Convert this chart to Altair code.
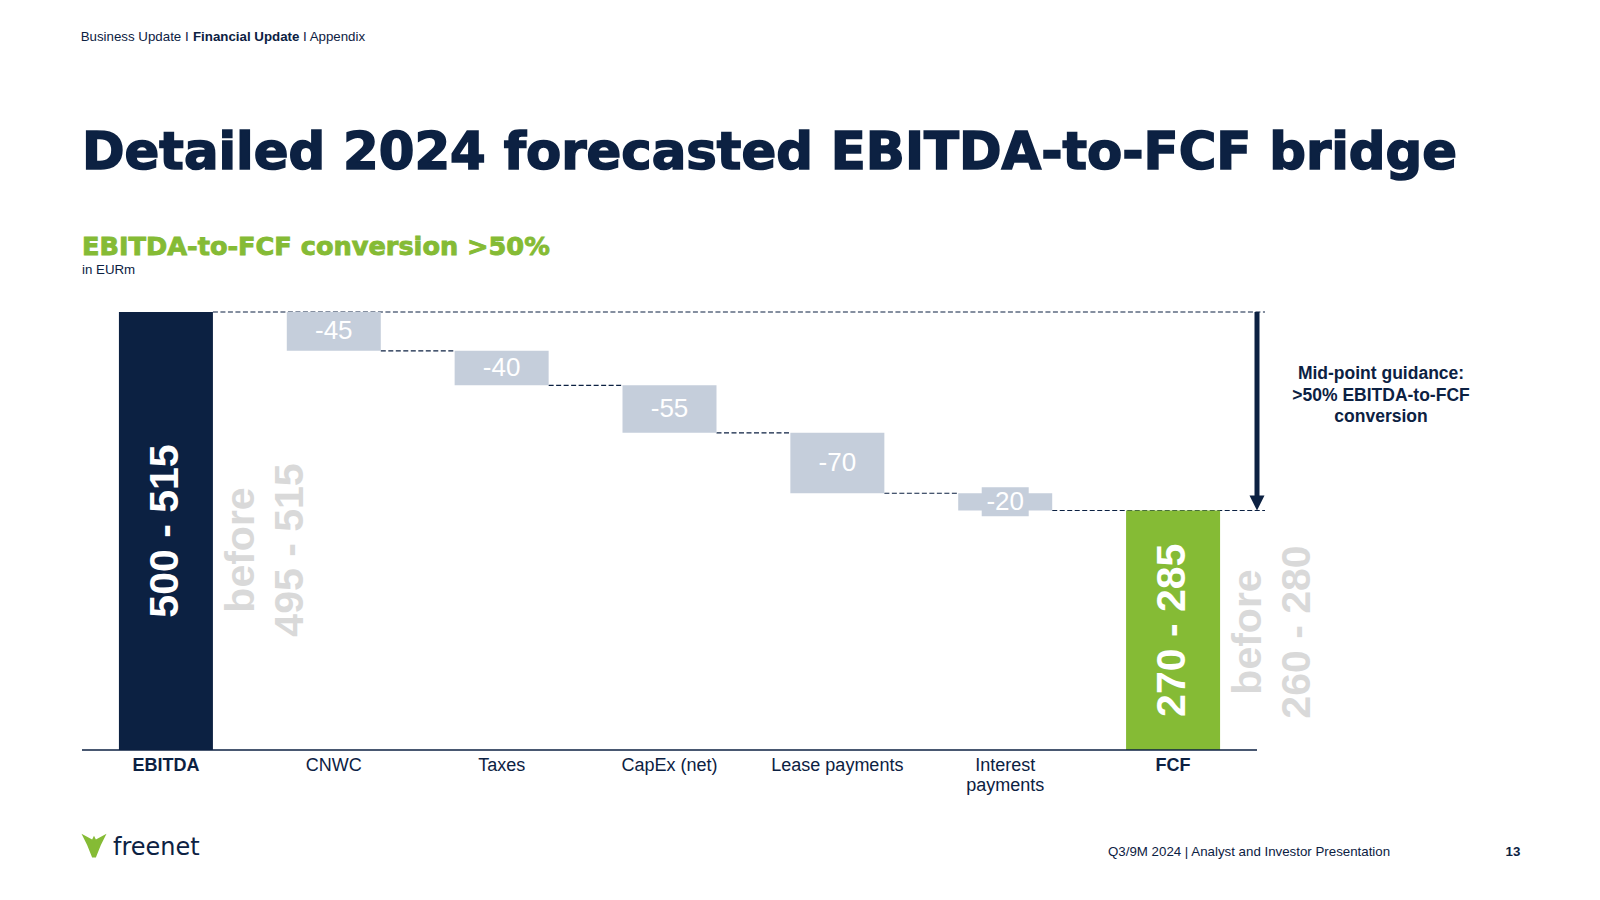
import altair as alt
import pandas as pd

# ---------------- data ----------------
categories = ["EBITDA", "CNWC", "Taxes", "CapEx (net)", "Lease payments", "Interest payments", "FCF"]
axis_labels = ["EBITDA", "CNWC", "Taxes", "CapEx (net)", "Lease payments", "Interest\npayments", "FCF"]
bold_labels = ["EBITDA", "FCF"]
ebitda_range = [500, 515]
ebitda_before = [495, 515]
fcf_range = [270, 285]
fcf_before = [260, 280]
step_values = [-45, -40, -55, -70, -20]

# ---------------- style ----------------
NAVY = "#0c2142"
GREEN = "#85bb35"
STEP = "#c5cedb"
BEFORE = "#d9d9d9"
FONT = "Liberation Sans"
HEAVY = "DejaVu Sans"
W, H = 1175, 438


def rng(r):
    return f"{r[0]} - {r[1]}"


ebitda_mid = sum(ebitda_range) / 2
fcf_mid = sum(fcf_range) / 2
unit_per_px = ebitda_mid / H

rows = [dict(cat="EBITDA", start=0, end=ebitda_mid, color=NAVY, label=rng(ebitda_range))]
level = ebitda_mid
for c, v in zip(categories[1:-1], step_values):
    rows.append(dict(cat=c, start=level, end=level + v, color=STEP, label=str(v)))
    level += v
rows.append(dict(cat="FCF", start=0, end=fcf_mid, color=GREEN, label=rng(fcf_range)))
bars = pd.DataFrame(rows)
bars["mid"] = (bars["start"] + bars["end"]) / 2

steps = bars.iloc[1:-1].copy()
totals = bars.iloc[[0, -1]].copy()

# label boxes for steps too small to hold their label
box_half = 14.5 * unit_per_px
small = steps[(steps["start"] - steps["end"]).abs() < 2 * box_half].copy()
small["b0"] = small["mid"] - box_half
small["b1"] = small["mid"] + box_half

conn = pd.DataFrame({
    "frm": categories[1:5],
    "to": categories[2:6],
    "y": list(steps["end"].iloc[:4]),
})
guides = pd.DataFrame({"frm": ["EBITDA", "Interest payments"], "y": [ebitda_mid, fcf_mid]})

xlab = pd.DataFrame({"cat": categories, "lab": axis_labels})
xlab_bold = xlab[xlab["cat"].isin(bold_labels)]
xlab_norm = xlab[~xlab["cat"].isin(bold_labels)]

xscale = alt.Scale(domain=categories, paddingInner=0.44, paddingOuter=0.22)
yscale = alt.Scale(domain=[0, ebitda_mid], nice=False, zero=True)


def X(field, bp=0.5):
    return alt.X(field, scale=xscale, bandPosition=bp, axis=None)


def Y(field):
    return alt.Y(field, scale=yscale, axis=None)


dashed = dict(color=NAVY, strokeWidth=1.2, strokeDash=[5, 2.5])

guide_layer = alt.Chart(guides).mark_rule(**dashed).encode(
    x=X("frm:N", 1), x2=alt.value(W + 8), y=Y("y:Q"))

conn_layer = alt.Chart(conn).mark_rule(**dashed).encode(
    x=X("frm:N", 1), x2=alt.X2("to", bandPosition=0), y=Y("y:Q"))

bar_layer = alt.Chart(bars).mark_bar().encode(
    x=alt.X("cat:N", scale=xscale, axis=None),
    y=Y("start:Q"), y2="end:Q",
    color=alt.Color("color:N", scale=None))

box_layer = alt.Chart(small).mark_bar(color=STEP, width=alt.RelativeBandSize(0.5)).encode(
    x=alt.X("cat:N", scale=xscale, axis=None), y=Y("b0:Q"), y2="b1:Q")

step_text = alt.Chart(steps).mark_text(
    color="white", fontSize=26, font=FONT, align="center", baseline="middle").encode(
    x=X("cat:N"), y=Y("mid:Q"), text="label:N")

total_text = alt.Chart(totals).mark_text(
    color="white", fontSize=41, font=FONT, fontWeight="bold", angle=270,
    align="center", baseline="middle").encode(
    x=X("cat:N"), y=Y("mid:Q"), text="label:N")


def before_layer(cat, text, ypx, dy):
    return alt.Chart(pd.DataFrame({"cat": [cat], "t": [text]})).mark_text(
        color=BEFORE, fontSize=41, font=FONT, fontWeight="bold", angle=270,
        align="center", baseline="middle", dy=dy).encode(
        x=X("cat:N", 1), y=alt.value(ypx), text="t:N")


before_layers = [
    before_layer("EBITDA", "before", 238, 29),
    before_layer("EBITDA", rng(ebitda_before), 238, 78),
    before_layer("FCF", "before", 320, 29),
    before_layer("FCF", rng(fcf_before), 320, 78),
]

xlab_b = alt.Chart(xlab_bold).mark_text(
    color=NAVY, fontSize=18, font=FONT, fontWeight="bold", align="center",
    baseline="alphabetic", lineBreak="\n", lineHeight=20).encode(
    x=X("cat:N"), y=alt.value(H + 20.5), text="lab:N")
xlab_n = alt.Chart(xlab_norm).mark_text(
    color=NAVY, fontSize=18, font=FONT, align="center",
    baseline="alphabetic", lineBreak="\n", lineHeight=20).encode(
    x=X("cat:N"), y=alt.value(H + 20.5), text="lab:N")

base_rule = alt.Chart(pd.DataFrame({"v": [0]})).mark_rule(color=NAVY, strokeWidth=1.6).encode(
    x=alt.value(0), x2=alt.value(W), y=alt.Y(datum=0, scale=yscale, axis=None))

arrow_df = pd.DataFrame({"y": [ebitda_mid], "y2": [fcf_mid + 10 * unit_per_px], "tip": [fcf_mid]})
arrow_shaft = alt.Chart(arrow_df).mark_rule(color=NAVY, strokeWidth=5).encode(
    x=alt.value(W), y=Y("y:Q"), y2="y2:Q")
arrow_head = alt.Chart(arrow_df).mark_point(
    shape="M-1,-2L1,-2L0,0Z", size=225, filled=True, color=NAVY, opacity=1, strokeWidth=0).encode(
    x=alt.value(W), y=Y("tip:Q"))


def txt(text, x, y, **kw):
    return alt.Chart(pd.DataFrame({"t": [text]})).mark_text(**kw).encode(
        x=alt.value(x), y=alt.value(y), text="t:N")


texts = [
    txt("Business Update I ", -1.3, -275.3, font=FONT, fontSize=13.3, color=NAVY, align="left", baseline="middle"),
    txt("Financial Update", 111, -275.3, font=FONT, fontSize=13.3, fontWeight="bold", color=NAVY, align="left", baseline="middle"),
    txt("I Appendix", 221, -275.3, font=FONT, fontSize=13.3, color=NAVY, align="left", baseline="middle"),
    txt("Detailed 2024 forecasted EBITDA-to-FCF bridge", 0, -143, font=HEAVY, fontSize=51.3, fontWeight="bold",
        color=NAVY, stroke=NAVY, strokeWidth=1.6, align="left", baseline="alphabetic"),
    txt("EBITDA-to-FCF conversion >50%", 0, -57.5, font=HEAVY, fontSize=25.6, fontWeight="bold",
        color=GREEN, stroke=GREEN, strokeWidth=0.9, align="left", baseline="alphabetic"),
    txt("in EURm", 0, -38.5, font=FONT, fontSize=13.3, color=NAVY, align="left", baseline="alphabetic"),
    txt("Mid-point guidance:\n>50% EBITDA-to-FCF\nconversion", 1299, 67, font=FONT, fontSize=17.5, fontWeight="bold",
        color=NAVY, align="center", baseline="alphabetic", lineBreak="\n", lineHeight=21.5),
    txt("freenet", 31, 543, font=HEAVY, fontSize=24, color=NAVY, align="left", baseline="alphabetic"),
    txt("Q3/9M 2024 | Analyst and Investor Presentation", 1026, 540, font=FONT, fontSize=13.3, color=NAVY,
        align="left", baseline="middle"),
    txt("13", 1431, 540, font=FONT, fontSize=13.3, fontWeight="bold", color=NAVY, align="center", baseline="middle"),
]

logo = alt.Chart(pd.DataFrame({"t": [0]})).mark_point(
    shape="M-1,-0.9L-0.15,-0.45L0,-0.75L0.15,-0.45L1,-0.9L0.55,0L0.15,1L-0.15,1L-0.55,0Z",
    size=625, filled=True, color=GREEN, opacity=1, strokeWidth=0).encode(
    x=alt.value(12), y=alt.value(533))

chart = alt.layer(
    guide_layer, conn_layer, bar_layer, box_layer, step_text, total_text,
    *before_layers, xlab_b, xlab_n, base_rule, arrow_shaft, arrow_head, logo, *texts
).properties(
    width=W, height=H,
    padding={"left": 74, "top": 304, "right": 335, "bottom": 142},
    autosize=alt.AutoSizeParams(type="none"),
).configure_view(strokeWidth=0)

chart.save("out.html", embed_options={"renderer": "svg", "actions": False})
